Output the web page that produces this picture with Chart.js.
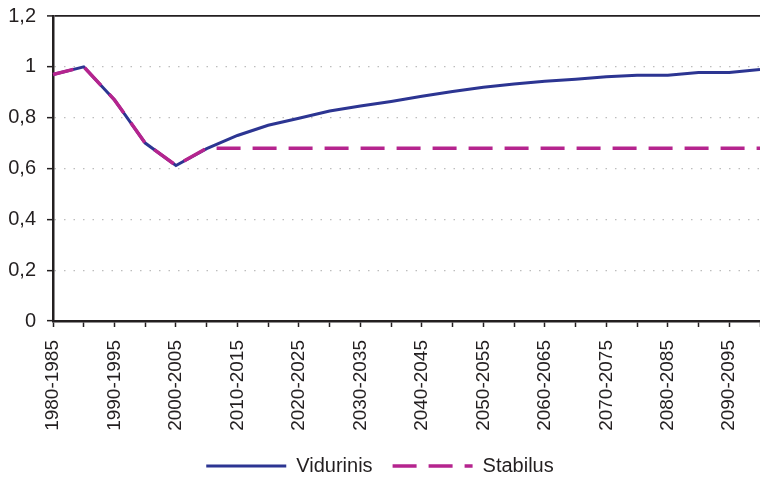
<!DOCTYPE html>
<html>
<head>
<meta charset="utf-8">
<script src="https://cdn.jsdelivr.net/npm/chart.js@4/dist/chart.umd.min.js"></script>
<style>
  html, body { margin: 0; padding: 0; background: #ffffff; }
  #wrap { width: 760px; height: 477px; }
</style>
</head>
<body>
<div id="wrap"><canvas id="projection_chart" width="760" height="477"></canvas></div>
<script>
// periods on the x axis
const periods = [
  "1980-1985", "1985-1990", "1990-1995", "1995-2000", "2000-2005", "2005-2010",
  "2010-2015", "2015-2020", "2020-2025", "2025-2030", "2030-2035", "2035-2040",
  "2040-2045", "2045-2050", "2050-2055", "2055-2060", "2060-2065", "2065-2070",
  "2070-2075", "2075-2080", "2080-2085", "2085-2090", "2090-2095", "2095-2100",
];

const vidurinis = [
  0.97, 1.0, 0.87, 0.70, 0.612, 0.678, 0.73, 0.77, 0.798, 0.826, 0.846, 0.864,
  0.884, 0.903, 0.92, 0.932, 0.943, 0.951, 0.961, 0.967, 0.967, 0.978, 0.978, 0.99,
];

const stabilus = [
  0.97, 1.0, 0.87, 0.70, 0.612, 0.68, 0.68, 0.68, 0.68, 0.68, 0.68, 0.68,
  0.68, 0.68, 0.68, 0.68, 0.68, 0.68, 0.68, 0.68, 0.68, 0.68, 0.68, 0.68,
];

const yTicks = [0, 0.2, 0.4, 0.6, 0.8, 1, 1.2];

const textColor = "#231f20";
const fontFamily = "'Liberation Sans', Arial, sans-serif";

const fmtComma = (v) => String(Math.round(v * 10) / 10).replace(".", ",");

const config = {
  type: "line",
  data: {
    labels: periods,
    datasets: [
      {
        label: "Vidurinis",
        data: vidurinis,
        borderColor: "#2c3592",
        backgroundColor: "#2c3592",
        borderWidth: 3,
        pointRadius: 0,
        tension: 0,
        order: 2,
      },
      {
        label: "Stabilus",
        data: stabilus,
        borderColor: "#b5248e",
        backgroundColor: "#b5248e",
        borderWidth: 3.5,
        borderDash: [24, 12],
        borderDashOffset: 3,
        pointRadius: 0,
        tension: 0,
        order: 1,
      },
    ],
  },
  options: {
    responsive: false,
    animation: false,
    layout: {
      padding: { top: 16, right: 0, left: 0, bottom: -9 },
    },
    plugins: {
      tooltip: { enabled: false },
      legend: {
        display: true,
        position: "bottom",
        labels: {
          usePointStyle: true,
          pointStyle: "line",
          pointStyleWidth: 80,
          color: textColor,
          font: { family: fontFamily, size: 20 },
          padding: 20,
          sort: (a, b) => a.datasetIndex - b.datasetIndex,
          // point style legend takes the point's style, so put the line style back
          generateLabels: (chart) => {
            const items = Chart.defaults.plugins.legend.labels.generateLabels(chart);
            items.forEach((item) => {
              const ds = chart.data.datasets[item.datasetIndex];
              item.lineDash = ds.borderDash || [];
              item.lineWidth = ds.borderWidth;
              item.strokeStyle = ds.borderColor;
              item.pointStyle = "line";
            });
            return items;
          },
        },
      },
    },
    scales: {
      x: {
        type: "category",
        offset: false,
        grid: {
          display: true,
          drawOnChartArea: false,
          drawTicks: true,
          tickLength: 6,
          tickColor: "#231f20",
          tickWidth: 1.5,
        },
        border: { display: true, color: "#231f20", width: 2.5 },
        ticks: {
          autoSkip: false,
          maxRotation: 90,
          minRotation: 90,
          padding: 13,
          color: textColor,
          font: { family: fontFamily, size: 19 },
          callback: (value, index) => (index % 2 === 0 ? periods[index] : ""),
        },
        afterFit: (scale) => {
          scale.paddingRight = 0;
          scale.paddingLeft = 0;
          scale.height = 115;
        },
      },
      y: {
        min: 0,
        max: 1.2,
        afterBuildTicks: (scale) => {
          scale.ticks = yTicks.map((v) => ({ value: v }));
        },
        grid: {
          color: (ctx) => (ctx.tick && ctx.tick.value > 1.19 ? "#231f20" : "#bdbdbd"),
          lineWidth: (ctx) => (ctx.tick && ctx.tick.value > 1.19 ? 1.8 : 1.3),
          drawTicks: true,
          tickLength: 6,
          tickColor: "#231f20",
          tickWidth: 1.5,
        },
        border: {
          display: true,
          color: "#231f20",
          width: 2.5,
          dash: (ctx) => (ctx.tick && ctx.tick.value < 1.19 ? [1.5, 8] : []),
        },
        ticks: {
          padding: 11,
          color: textColor,
          font: { family: fontFamily, size: 20 },
          callback: (value) => fmtComma(value),
        },
        afterFit: (scale) => {
          scale.width = 53;
          scale.paddingTop = 0;
          scale.paddingBottom = 0;
        },
      },
    },
  },
};

const projectionChart = new Chart("projection_chart", config);
</script>
</body>
</html>
